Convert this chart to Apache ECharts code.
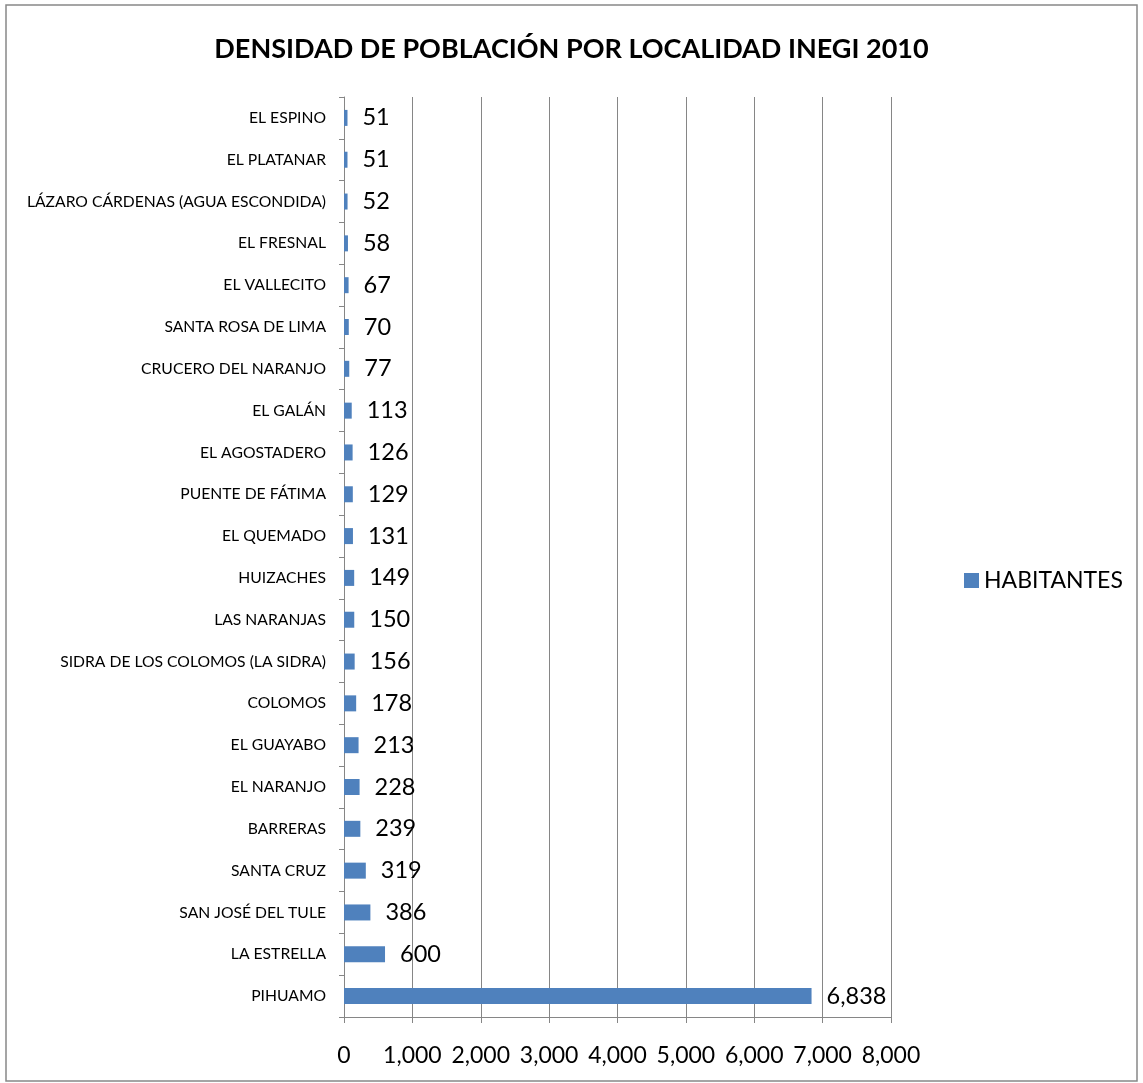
<!DOCTYPE html>
<html><head><meta charset="utf-8">
<script src="https://cdn.jsdelivr.net/npm/echarts@6/dist/echarts.min.js"></script>
<style>html,body{margin:0;padding:0;background:#fff}#c{width:1143px;height:1083px}</style>
</head><body><div id="c"></div>
<script>
const categories = ["EL ESPINO","EL PLATANAR","LÁZARO CÁRDENAS (AGUA ESCONDIDA)","EL FRESNAL","EL VALLECITO","SANTA ROSA DE LIMA","CRUCERO DEL NARANJO","EL GALÁN","EL AGOSTADERO","PUENTE DE FÁTIMA","EL QUEMADO","HUIZACHES","LAS NARANJAS","SIDRA DE LOS COLOMOS (LA SIDRA)","COLOMOS","EL GUAYABO","EL NARANJO","BARRERAS","SANTA CRUZ","SAN JOSÉ DEL TULE","LA ESTRELLA","PIHUAMO"];
const habitantes = [51,51,52,58,67,70,77,113,126,129,131,149,150,156,178,213,228,239,319,386,600,6838];
const seriesName = "HABITANTES";
const title = "DENSIDAD DE POBLACIÓN POR LOCALIDAD INEGI 2010";

const chart = echarts.init(document.getElementById('c'));
const font = 'Lato, sans-serif';
chart.setOption({
  animation:false,
  title:{text:title,left:'center',top:31,textStyle:{fontFamily:font,fontSize:27,fontWeight:'bold',color:'#000'}},
  graphic:[{type:'rect',shape:{x:6,y:5,width:1131,height:1076},style:{fill:'none',stroke:'#888',lineWidth:1.5}}],
  legend:{data:[seriesName],left:959,top:564,itemWidth:15,itemHeight:15,itemGap:4,textStyle:{fontFamily:font,fontSize:23,color:'#000'},icon:'rect'},
  grid:{left:344,right:252,top:97,bottom:66,containLabel:false},
  xAxis:{type:'value',min:0,max:8000,interval:1000,
    axisLine:{show:true,lineStyle:{color:'#868686'}},
    axisTick:{show:true,length:6,lineStyle:{color:'#868686'}},
    splitLine:{show:true,lineStyle:{color:'#868686',width:1}},
    axisLabel:{fontFamily:font,fontSize:23,color:'#000',margin:27,formatter:v=>v.toLocaleString('en-US')}},
  yAxis:{type:'category',data:categories,inverse:true,
    axisLine:{show:true,lineStyle:{color:'#868686'}},
    axisTick:{show:true,length:5,lineStyle:{color:'#868686'}},
    axisLabel:{fontFamily:font,fontSize:15.7,color:'#000',margin:18}},
  series:[{name:seriesName,type:'bar',data:habitantes,barWidth:16,
    itemStyle:{color:'#4F81BD'},
    label:{show:true,position:'right',distance:15,fontFamily:font,fontSize:23.5,color:'#000',formatter:p=>p.value.toLocaleString('en-US')}}]
});
</script></body></html>
